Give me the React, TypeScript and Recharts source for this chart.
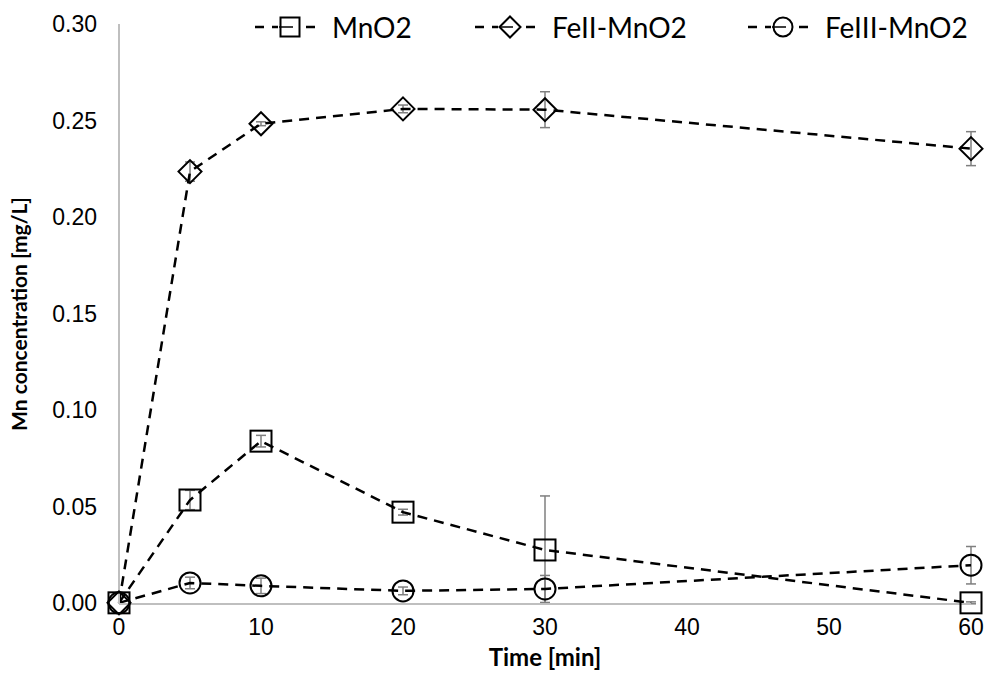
import React from "react";
import { LineChart, Line, XAxis, YAxis, ErrorBar, Legend, Label } from "recharts";

// sampling times [min]
const times = [0, 5, 10, 20, 30, 60];

// Mn concentration [mg/L] per material
const mno2 = [0, 0.0533, 0.0838, 0.047, 0.0274, 0];
const mno2Err = [0, 0.005, 0.003, 0.0015, 0.028, 0.0005];

const fe2 = [0, 0.2235, 0.2483, 0.256, 0.2556, 0.2354];
const fe2Err = [0, 0.005, 0.001, 0.002, 0.0093, 0.0088];

const fe3 = [0, 0.0103, 0.0088, 0.0062, 0.0072, 0.0195];
const fe3Err = [0, 0.003, 0.004, 0.002, 0.007, 0.0097];

const xTicks = [0, 10, 20, 30, 40, 50, 60];
const yTicks = [0, 0.05, 0.1, 0.15, 0.2, 0.25, 0.3];

const seriesNames = ["MnO2", "FeII-MnO2", "FeIII-MnO2"];

const data = times.map((t, i) => ({
  t,
  mno2: mno2[i],
  mno2Err: mno2Err[i],
  fe2: fe2[i],
  fe2Err: fe2Err[i],
  fe3: fe3[i],
  fe3Err: fe3Err[i],
}));

type Shape = "square" | "diamond" | "circle";

function Marker({ shape, cx, cy, h }: { shape: Shape; cx: number; cy: number; h: number }) {
  const common = { fill: "none", stroke: "#000", strokeWidth: 2 };
  if (shape === "square") return <rect x={cx - h} y={cy - h} width={h * 2} height={h * 2} {...common} />;
  if (shape === "diamond")
    return (
      <polygon
        points={`${cx},${cy - h - 1} ${cx + h + 1},${cy} ${cx},${cy + h + 1} ${cx - h - 1},${cy}`}
        {...common}
      />
    );
  return <circle cx={cx} cy={cy} r={h} {...common} />;
}

const dotFor = (shape: Shape) => (p: any) =>
  p.cx == null || p.cy == null ? (
    <g key={`${shape}-${p.index}`} />
  ) : (
    <g key={`${shape}-${p.index}`}>
      <Marker shape={shape} cx={p.cx} cy={p.cy} h={10.5} />
    </g>
  );

const legendItems: { name: string; shape: Shape; left: number }[] = [
  { name: seriesNames[0], shape: "square", left: 255 },
  { name: seriesNames[1], shape: "diamond", left: 475 },
  { name: seriesNames[2], shape: "circle", left: 748 },
];

function LegendContent() {
  return (
    <div style={{ position: "relative", width: 989, height: 40 }}>
      {legendItems.map((it) => (
        <div
          key={it.name}
          style={{
            position: "absolute",
            left: it.left,
            top: 0,
            height: 40,
            display: "flex",
            alignItems: "center",
            fontFamily: "Lato, sans-serif",
            fontSize: 28,
            color: "#000",
            whiteSpace: "nowrap",
          }}
        >
          <svg width={66} height={30} style={{ marginRight: 11 }}>
            <line x1={0} y1={15} x2={66} y2={15} stroke="#000" strokeWidth={2.5} strokeDasharray="9 8" />
            <rect x={23} y={3} width={24} height={24} fill="#fff" />
            <Marker shape={it.shape} cx={35} cy={15} h={9.5} />
            <line x1={24} y1={15} x2={38} y2={15} stroke="#000" strokeWidth={1.5} />
          </svg>
          {it.name}
        </div>
      ))}
    </div>
  );
}

const tickStyle = { fontFamily: "'Liberation Sans', Arial, sans-serif", fontSize: 23, fill: "#000" };
const errStyle = { stroke: "#7f7f7f", strokeWidth: 1.5 };

export default function App() {
  return (
    <div style={{ position: "absolute", left: 0, top: 0, background: "#fff" }}>
      <LineChart width={989} height={675} data={data} margin={{ top: 24, right: 18, bottom: 41, left: 5 }}>
        <XAxis
          type="number"
          dataKey="t"
          domain={[0, 60]}
          ticks={xTicks}
          height={30}
          axisLine={{ stroke: "#bfbfbf", strokeWidth: 2 }}
          tickLine={false}
          tickSize={0}
          tickMargin={15}
          tick={tickStyle}
        >
          <Label
            content={({ viewBox }: any) => (
              <text
                x={viewBox.x + viewBox.width / 2}
                y={viewBox.y + 62}
                textAnchor="middle"
                fontFamily="Lato, sans-serif"
                fontWeight={700}
                fontSize={24}
                fill="#000"
              >
                Time [min]
              </text>
            )}
          />
        </XAxis>
        <YAxis
          type="number"
          domain={[0, 0.3]}
          ticks={yTicks}
          width={114}
          axisLine={{ stroke: "#bfbfbf", strokeWidth: 2 }}
          tickLine={false}
          tickSize={0}
          tickMargin={22}
          tick={tickStyle}
          tickFormatter={(v: number) => v.toFixed(2)}
        >
          <Label
            content={({ viewBox }: any) => {
              const x = viewBox.x + 22;
              const y = viewBox.y + viewBox.height / 2;
              return (
                <text
                  x={x}
                  y={y}
                  transform={`rotate(-90 ${x} ${y})`}
                  textAnchor="middle"
                  fontFamily="Lato, sans-serif"
                  fontWeight={700}
                  fontSize={21}
                  fill="#000"
                >
                  Mn concentration [mg/L]
                </text>
              );
            }}
          />
        </YAxis>
        <Legend
          layout="horizontal"
          verticalAlign="middle"
          align="center"
          wrapperStyle={{ top: 7, left: 0, width: 989, height: 40 }}
          content={() => <LegendContent />}
        />
        <Line
          dataKey="mno2"
          name={seriesNames[0]}
          type="linear"
          stroke="#000"
          strokeWidth={2.5}
          strokeDasharray="10 7"
          dot={dotFor("square")}
          activeDot={false}
          isAnimationActive={false}
        >
          <ErrorBar dataKey="mno2Err" width={5} {...errStyle} isAnimationActive={false} />
        </Line>
        <Line
          dataKey="fe2"
          name={seriesNames[1]}
          type="linear"
          stroke="#000"
          strokeWidth={2.5}
          strokeDasharray="10 7"
          dot={dotFor("diamond")}
          activeDot={false}
          isAnimationActive={false}
        >
          <ErrorBar dataKey="fe2Err" width={5} {...errStyle} isAnimationActive={false} />
        </Line>
        <Line
          dataKey="fe3"
          name={seriesNames[2]}
          type="linear"
          stroke="#000"
          strokeWidth={2.5}
          strokeDasharray="10 7"
          dot={dotFor("circle")}
          activeDot={false}
          isAnimationActive={false}
        >
          <ErrorBar dataKey="fe3Err" width={5} {...errStyle} isAnimationActive={false} />
        </Line>
      </LineChart>
    </div>
  );
}
